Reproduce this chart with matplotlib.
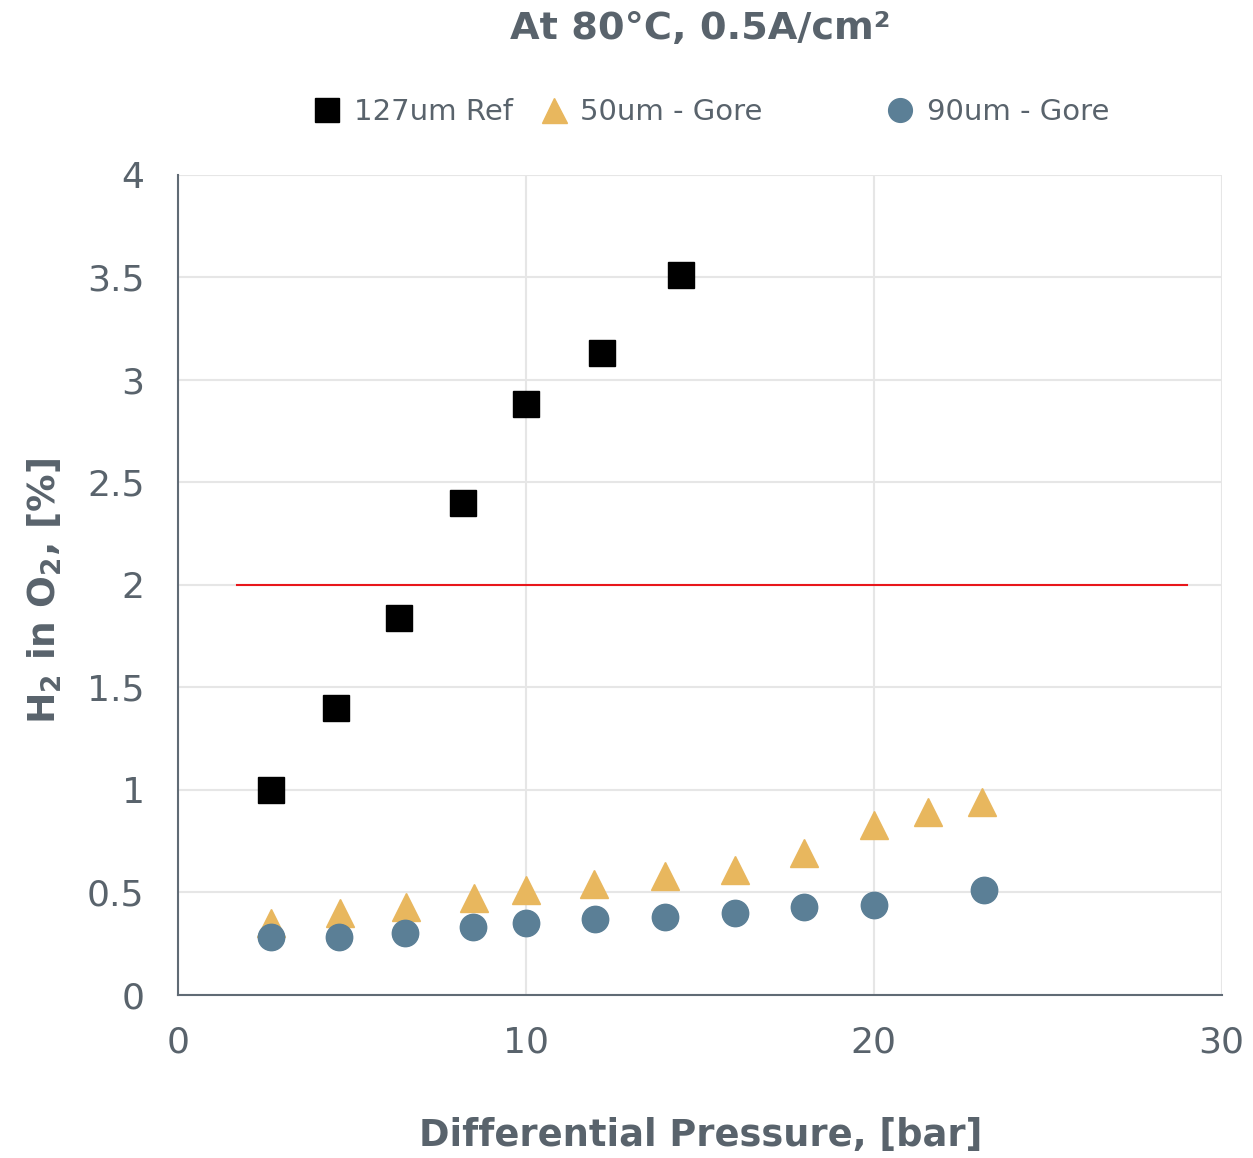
import matplotlib
matplotlib.use("Agg")
import matplotlib.pyplot as plt

# data
ref_x = [2.67, 4.55, 6.35, 8.18, 10.0, 12.18, 14.45]
ref_y = [1.0, 1.40, 1.84, 2.40, 2.88, 3.13, 3.51]

gore50_x = [2.67, 4.65, 6.55, 8.5, 10.0, 11.95, 14.0, 16.0, 18.0, 20.0, 21.55, 23.1]
gore50_y = [0.35, 0.40, 0.43, 0.47, 0.51, 0.54, 0.58, 0.61, 0.69, 0.83, 0.89, 0.94]

gore90_x = [2.67, 4.63, 6.52, 8.48, 10.0, 11.98, 14.0, 16.0, 18.0, 20.0, 23.16]
gore90_y = [0.28, 0.28, 0.30, 0.33, 0.35, 0.37, 0.38, 0.40, 0.43, 0.44, 0.51]

limit_x = [1.7, 29.0]
limit_y = [2.0, 2.0]

x_ticks = [0, 10, 20, 30]
y_ticks = [0, 0.5, 1, 1.5, 2, 2.5, 3, 3.5, 4]
y_labels = ['0', '0.5', '1', '1.5', '2', '2.5', '3', '3.5', '4']

TEXT = '#59636c'
AXIS = '#606b75'

plt.rcParams['font.family'] = ['DejaVu Sans']

fig = plt.figure(figsize=(12.53, 11.58), dpi=100)
ax = fig.add_axes([0.142, 0.141, 0.833, 0.708])

ax.plot(limit_x, limit_y, color='#e8161b', linewidth=1.5, zorder=2)
h_ref, = ax.plot(ref_x, ref_y, linestyle='none', marker='s', markersize=19,
                 color='black', label='127um Ref', zorder=3)
h_50, = ax.plot(gore50_x, gore50_y, linestyle='none', marker='^', markersize=20,
                color='#e8b75e', label='50um - Gore', zorder=3)
h_90, = ax.plot(gore90_x, gore90_y, linestyle='none', marker='o', markersize=19,
                color='#5b7f96', label='90um - Gore', zorder=4)

ax.set_xlim(0, 30)
ax.set_ylim(0, 4)
ax.set_xticks(x_ticks)
ax.set_yticks(y_ticks)
ax.set_yticklabels(y_labels)
ax.grid(True, color='#e6e6e6', linewidth=1.5, zorder=0)
ax.set_axisbelow(True)

for side in ['top', 'right']:
    ax.spines[side].set_visible(False)
for side in ['left', 'bottom']:
    ax.spines[side].set_color(AXIS)
    ax.spines[side].set_linewidth(1.5)

ax.tick_params(axis='both', length=0, labelsize=26, labelcolor=TEXT)
ax.tick_params(axis='y', pad=24)
ax.tick_params(axis='x', pad=22)

fig.text(0.559, 0.975, 'At 80°C, 0.5A/cm²', ha='center', va='center',
         fontsize=27.5, fontweight='bold', color=TEXT)
fig.text(0.559, 0.019, 'Differential Pressure, [bar]', ha='center', va='center',
         fontsize=26.5, fontweight='bold', color=TEXT)
fig.text(0.036, 0.49, 'H$_\\mathbf{2}$ in O$_\\mathbf{2}$, [%]', ha='center', va='center',
         rotation=90, fontsize=27, fontweight='bold', color=TEXT)

# legend split in two to mimic the uneven spacing of the original
leg_kw = dict(frameon=False, fontsize=21, handletextpad=0.4,
              handlelength=1.0, markerscale=0.9)
leg1 = fig.legend([h_ref, h_50], ['127um Ref', '50um - Gore'], loc='center',
                  bbox_to_anchor=(0.429, 0.903), ncol=2, columnspacing=0.9, **leg_kw)
leg2 = fig.legend([h_90], ['90um - Gore'], loc='center',
                  bbox_to_anchor=(0.796, 0.903), ncol=1, **leg_kw)
for leg in (leg1, leg2):
    for t in leg.get_texts():
        t.set_color(TEXT)

plt.savefig('out.png', dpi=100)
plt.close()
